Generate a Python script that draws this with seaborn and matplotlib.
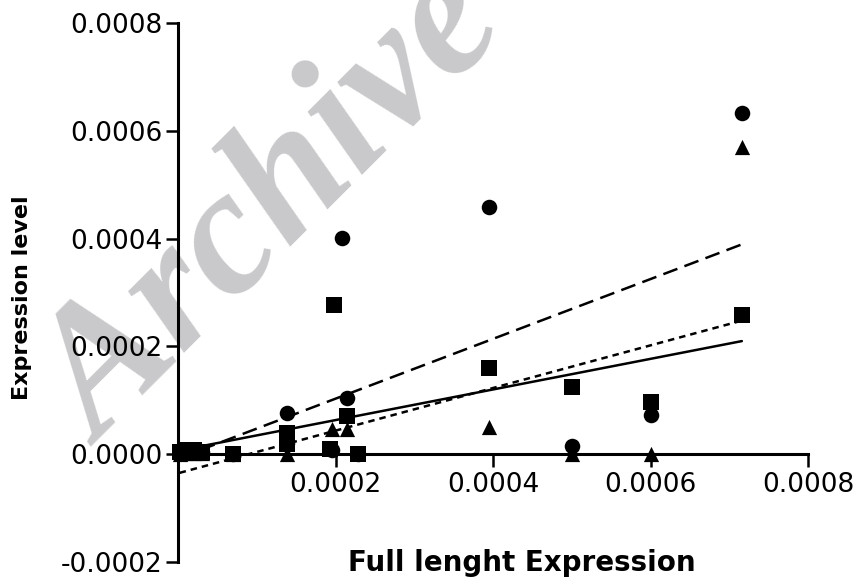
import matplotlib
matplotlib.use("Agg")
import matplotlib.pyplot as plt
import seaborn as sns
import numpy as np
from matplotlib.ticker import FormatStrFormatter

# values (x = full length, y = expression level)
# (a few circles sit hidden behind the squares near x = 0.00014 and 0.00023)
circle_x = [0.000002, 0.00001, 0.00002, 0.00003, 0.00007, 0.000138, 0.000138,
            0.000196, 0.000208, 0.000215, 0.000229, 0.000395, 0.0005, 0.0006,
            0.000716]
circle_y = [0.000002, 0.000003, 0.000004, 0.000005, 0.0, 0.000076, 0.00002,
            0.000008, 0.000402, 0.000105, 0.0, 0.000459, 0.000015, 0.000072,
            0.000633]

square_x = [0.000002, 0.00001, 0.00002, 0.00003, 0.00007, 0.000138, 0.000138,
            0.000193, 0.000198, 0.000215, 0.000229, 0.000395, 0.0005, 0.0006,
            0.000716]
square_y = [0.000005, 0.000008, 0.000008, 0.000005, 0.0, 0.00004, 0.000018,
            0.00001, 0.000276, 0.00007, 0.0, 0.000159, 0.000124, 0.000096,
            0.000259]

triangle_x = [0.000002, 0.00001, 0.00002, 0.00003, 0.00007, 0.000138, 0.000196,
              0.000215, 0.000395, 0.0005, 0.0006, 0.000716]
triangle_y = [0.0, 0.000002, 0.000003, 0.000002, 0.0, 0.0, 0.000046,
              0.000046, 0.00005, 0.0, 0.0, 0.00057]

x_ticks = [0.0002, 0.0004, 0.0006, 0.0008]
y_ticks = [-0.0002, 0.0, 0.0002, 0.0004, 0.0006, 0.0008]

sns.set_style("ticks", {'axes.edgecolor': 'black', 'text.color': 'black',
                        'axes.labelcolor': 'black', 'xtick.color': 'black',
                        'ytick.color': 'black'})
plt.rcParams['font.family'] = ['DejaVu Sans']

fig = plt.figure(figsize=(8.55, 5.78), dpi=100)
ax = fig.add_axes([178 / 855, 16 / 578, 630 / 855, 539 / 578])

series = [
    (circle_x, circle_y, 'o', 125, (0, (6, 3))),
    (square_x, square_y, 's', 125, '-'),
    (triangle_x, triangle_y, '^', 120, (0, (2.6, 2.0))),
]
for xs, ys, mk, size, ls in series:
    sns.regplot(x=np.array(xs), y=np.array(ys), ax=ax, ci=None, marker=mk,
                color='black',
                scatter_kws={'s': size, 'clip_on': False, 'zorder': 3,
                             'linewidths': 0, 'alpha': 1},
                line_kws={'linestyle': ls, 'lw': 1.8, 'color': 'black', 'zorder': 2})

ax.set_xlim(0, 0.0008)
ax.set_ylim(-0.0002, 0.0008)
ax.set_xticks(x_ticks)
ax.set_yticks(y_ticks)
ax.xaxis.set_major_formatter(FormatStrFormatter('%.4f'))
ax.yaxis.set_major_formatter(FormatStrFormatter('%.4f'))

ax.spines['top'].set_visible(False)
ax.spines['right'].set_visible(False)
ax.spines['bottom'].set_position(('data', 0))
for s in ['left', 'bottom']:
    ax.spines[s].set_linewidth(2.2)
ax.tick_params(axis='both', direction='out', length=9, width=1.8, labelsize=19,
               colors='black')
ax.tick_params(axis='y', pad=2)
ax.tick_params(axis='x', pad=4)

ax.set_xlabel('Full lenght Expression', fontsize=20, fontweight='bold', color='black')
ax.xaxis.set_label_coords(0.546, 0.024)
ax.set_ylabel('Expression level', fontsize=16, fontweight='bold', color='black')
ax.yaxis.label.set(va='center')
ax.yaxis.set_label_coords(-0.248, 0.49)

# watermark
ax.text(100 / 855, 1 - 447 / 578, 'Archive', transform=fig.transFigure,
        rotation=45, rotation_mode='anchor', ha='left', va='baseline',
        fontsize=130, family='Liberation Serif', fontweight='bold',
        style='italic', color='#c9c9cb', zorder=0, clip_on=False)

fig.savefig('out.png', dpi=100)
